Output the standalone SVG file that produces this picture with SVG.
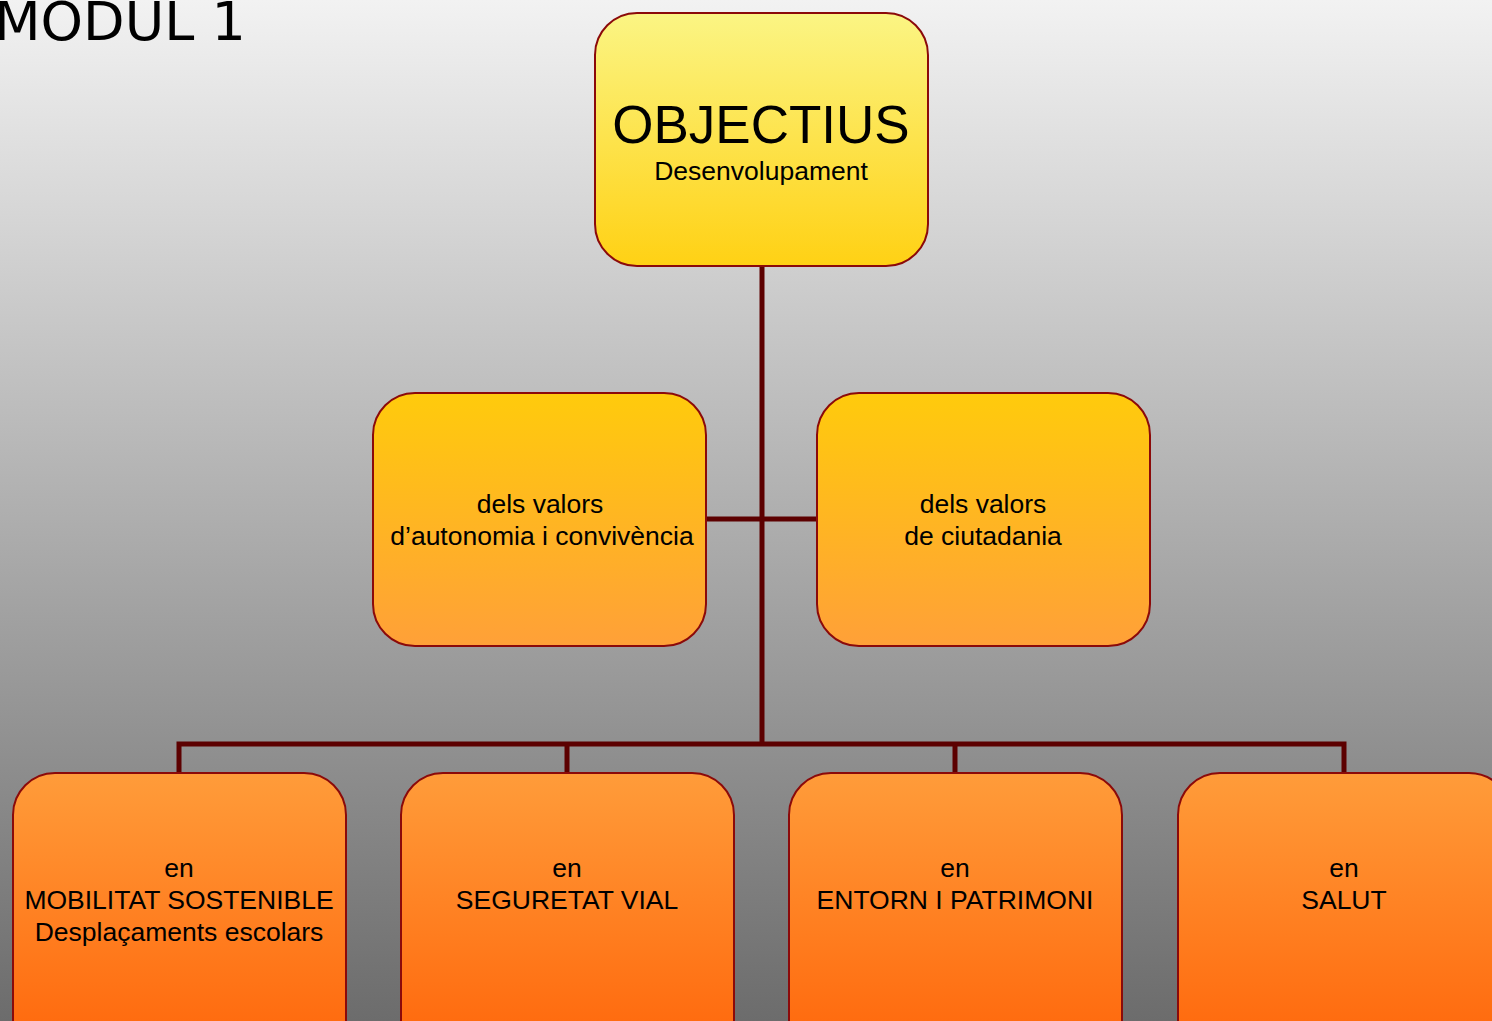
<svg xmlns="http://www.w3.org/2000/svg" width="1492" height="1021" viewBox="0 0 1492 1021">
<defs>
<linearGradient id="bg" x1="0" y1="0" x2="0" y2="1021" gradientUnits="userSpaceOnUse">
<stop offset="0" stop-color="#f2f2f2"/>
<stop offset="1" stop-color="#6c6c6c"/>
</linearGradient>
<linearGradient id="g1" x1="0" y1="0" x2="0" y2="1">
<stop offset="0" stop-color="#fbf584"/>
<stop offset="1" stop-color="#ffd114"/>
</linearGradient>
<linearGradient id="g2" x1="0" y1="0" x2="0" y2="1">
<stop offset="0" stop-color="#ffcb0c"/>
<stop offset="1" stop-color="#ffa038"/>
</linearGradient>
<linearGradient id="g3" x1="0" y1="0" x2="0" y2="1">
<stop offset="0" stop-color="#ff9c3a"/>
<stop offset="1" stop-color="#ff6409"/>
</linearGradient>
</defs>
<style>
.box{stroke:#8b0a0a;stroke-width:2}
.t{font-family:"Liberation Sans",Arial,sans-serif;font-size:26.5px;fill:#000;text-anchor:middle}
.big{font-size:53px}
.c{stroke:#5c0000;stroke-width:5;fill:none}
</style>
<rect x="0" y="0" width="1492" height="1021" fill="url(#bg)"/>
<text x="-6" y="40" font-family="DejaVu Sans,Verdana,sans-serif" font-size="54" fill="#000">MODUL 1</text>
<g id="connectors">
<path class="c" d="M762 266 V744"/>
<path class="c" d="M706 519 H817"/>
<path class="c" d="M179 773 V744 H1344 V773"/>
<path class="c" d="M567 744 V773"/>
<path class="c" d="M955 744 V773"/>
</g>
<g id="n-objectius">
<rect class="box" x="595" y="13" width="333" height="253" rx="42" fill="url(#g1)"/>
<text class="t big" x="761" y="143">OBJECTIUS</text>
<text class="t" x="761" y="180">Desenvolupament</text>
</g>
<g id="n-autonomia">
<rect class="box" x="373" y="393" width="333" height="253" rx="42" fill="url(#g2)"/>
<text class="t" x="540" y="513">dels valors</text>
<text class="t" x="542" y="545">d’autonomia i convivència</text>
</g>
<g id="n-ciutadania">
<rect class="box" x="817" y="393" width="333" height="253" rx="42" fill="url(#g2)"/>
<text class="t" x="983" y="513">dels valors</text>
<text class="t" x="983" y="545">de ciutadania</text>
</g>
<g id="n-mobilitat">
<rect class="box" x="13" y="773" width="333" height="290" rx="42" fill="url(#g3)"/>
<text class="t" x="179" y="877">en</text>
<text class="t" x="179" y="909">MOBILITAT SOSTENIBLE</text>
<text class="t" x="179" y="941">Desplaçaments escolars</text>
</g>
<g id="n-seguretat">
<rect class="box" x="401" y="773" width="333" height="290" rx="42" fill="url(#g3)"/>
<text class="t" x="567" y="877">en</text>
<text class="t" x="567" y="909">SEGURETAT VIAL</text>
</g>
<g id="n-entorn">
<rect class="box" x="789" y="773" width="333" height="290" rx="42" fill="url(#g3)"/>
<text class="t" x="955" y="877">en</text>
<text class="t" x="955" y="909">ENTORN I PATRIMONI</text>
</g>
<g id="n-salut">
<rect class="box" x="1178" y="773" width="333" height="290" rx="42" fill="url(#g3)"/>
<text class="t" x="1344" y="877">en</text>
<text class="t" x="1344" y="909">SALUT</text>
</g>
</svg>
